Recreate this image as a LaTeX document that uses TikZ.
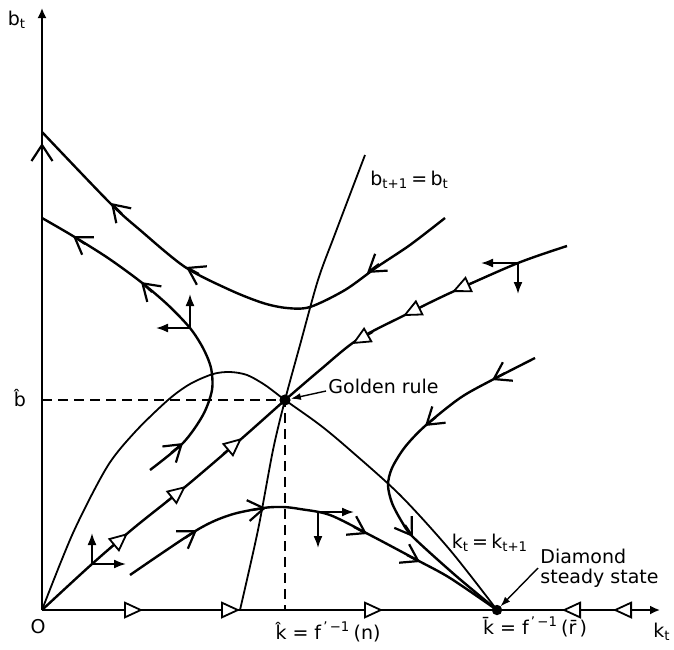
\documentclass[tikz,border=0pt]{standalone}
\usepackage{fontspec}
\setmainfont{DejaVu Sans}
\usetikzlibrary{arrows.meta}

\begin{document}
\begin{tikzpicture}[
  x=0.5pt,y=-0.5pt,
  axisline/.style={line width=0.9pt,-{Latex[length=5pt,width=4.5pt]}},
  traj/.style={line width=1.2pt},
  locus/.style={line width=0.9pt},
  guide/.style={line width=0.8pt,dash pattern=on 5pt off 3pt},
  chev/.style={line width=1.1pt,-{Straight Barb[length=8pt,width=10.5pt]}},
  tri/.style={line width=0.9pt,-{Triangle[length=9.5pt,width=8.5pt,fill=white]}},
  push/.style={line width=0.9pt,-{Latex[length=6pt,width=4.5pt]}},
  ptr/.style={line width=0.7pt,-{Latex[length=5pt,width=3.5pt]}},
  lab/.style={font=\fontsize{9.5}{10}\selectfont,inner sep=1pt}
]
\useasboundingbox (0,0) rectangle (674,649);
\coordinate (O) at (42,610);
\coordinate (G) at (285,400);
\coordinate (D) at (497,610);
% axes
\draw[axisline] (O) -- (42,8);
\draw[axisline] (O) -- (660,610);
\draw[chev] (42,158) -- (42,143);
\draw[tri] (119,610) -- (143,610);
\draw[tri] (216,610) -- (240,610);
\draw[tri] (359,610) -- (383,610);
\draw[tri] (586,610) -- (562,610);
\draw[tri] (637,610) -- (613,610);
% golden rule guides
\draw[guide] (O |- G) -- (G) -- (G |- O);
% k_t = k_{t+1} and b_{t+1} = b_t
\draw[locus] plot[smooth] coordinates {(42,610) (73,533) (107,467) (135,432) (168,400)
  (190,384) (213,374) (230,372) (247,375) (265,385) (285,400) (320,425) (350,450)
  (400,495) (450,550) (497,610)};
\draw[locus] plot[smooth] coordinates {(240,610) (258,530) (273,450) (285,400) (300,345)
  (318,280) (335,234) (365,155)};
% trajectories
\draw[traj] plot[smooth] coordinates {(445,218) (410,245) (377,267) (345,290) (310,307)
  (287,308) (263,303) (230,290) (185,267) (140,230) (110,203) (42,132)};
\draw[chev] (379,264) -- (367,273);
\draw[chev] (199,274) -- (186,267);
\draw[chev] (122,214) -- (111,203);
\draw[traj] plot[smooth] coordinates {(150,470) (183,443) (203,415) (212,390) (211,368)
  (203,348) (190,328) (168,305) (141,282) (108,258) (73,236) (42,218)};
\draw[chev] (171,453) -- (183,443);
\draw[chev] (152,292) -- (141,282);
\draw[chev] (85,244) -- (73,236);
\draw[traj] plot[smooth] coordinates {(130,575) (197,530) (230,515) (263,508) (283,507)
  (300,509) (330,515) (370,535) (417,560) (450,578) (497,610)};
\draw[chev] (185,538) -- (197,530);
\draw[chev] (252,510) -- (266,508);
\draw[chev] (354,527) -- (367,534);
\draw[chev] (407,555) -- (420,562);
\draw[traj] plot[smooth] coordinates {(535,358) (492,380) (460,398) (425,426) (405,447)
  (392,468) (388,485) (392,503) (402,522) (413,537) (455,575) (497,610)};
\draw[chev] (505,373) -- (492,380);
\draw[chev] (436,417) -- (425,426);
\draw[chev] (405,525) -- (413,537);
% saddle path
\draw[traj] plot[smooth] coordinates {(567,246) (518,263) (450,293) (405,315) (357,340)
  (320,370) (285,400)};
\draw[tri] (474,282) -- (452,292);
\draw[tri] (425,305) -- (403,316);
\draw[tri] (373,332) -- (352,344);
\draw[traj] plot[smooth] coordinates {(42,610) (92,564) (135,527) (185,487) (240,440)
  (285,400)};
\draw[tri] (109,549) -- (128,533);
\draw[tri] (166,502) -- (186,486);
\draw[tri] (223,454) -- (242,438);
% direction of motion
\coordinate (m1) at (190,328);
\coordinate (m2) at (518,263);
\coordinate (m3) at (92,564);
\coordinate (m4) at (318,512);
\draw[push] (m1) -- ++(0,-34);
\draw[push] (m1) -- ++(-34,0);
\draw[push] (m2) -- ++(-37,0);
\draw[push] (m2) -- ++(0,31);
\draw[push] (m3) -- ++(0,-31);
\draw[push] (m3) -- ++(34,0);
\draw[push] (m4) -- ++(36,0);
\draw[push] (m4) -- ++(0,36);
% steady states
\fill (G) circle (2.8pt);
\fill (D) circle (2.6pt);
% labels
\node[lab] (btlab) at (17,20) {b\textsubscript{t}};
\node[lab] (bhat) at (20,398) {\^b};
\node[lab] (olab) at (38,627) {O};
\node[lab] (khat) at (328,632) {\^k = f\textsuperscript{\,'\,−1}\,(n)};
\node[lab] (kbar) at (535,627) {\=k = f\textsuperscript{\,'\,−1}\,(\=r\,)};
\node[lab] (ktlab) at (662,632) {k\textsubscript{t}};
\node[lab,anchor=west] (blocus) at (368,180) {b\textsubscript{t+1}\,=\,b\textsubscript{t}};
\node[lab,anchor=west] (glab) at (326,386) {Golden rule};
\node[lab] (klocus) at (490,543) {k\textsubscript{t}\,=\,k\textsubscript{t+1}};
\node[lab,anchor=west,align=left] (dlab) at (538,568) {Diamond\\steady state};
\draw[ptr,shorten >=3pt] ([yshift=-2.5pt]glab.west) -- (G);
\draw[ptr,shorten >=2.5pt] (dlab.west) -- (D);
\end{tikzpicture}
\end{document}
